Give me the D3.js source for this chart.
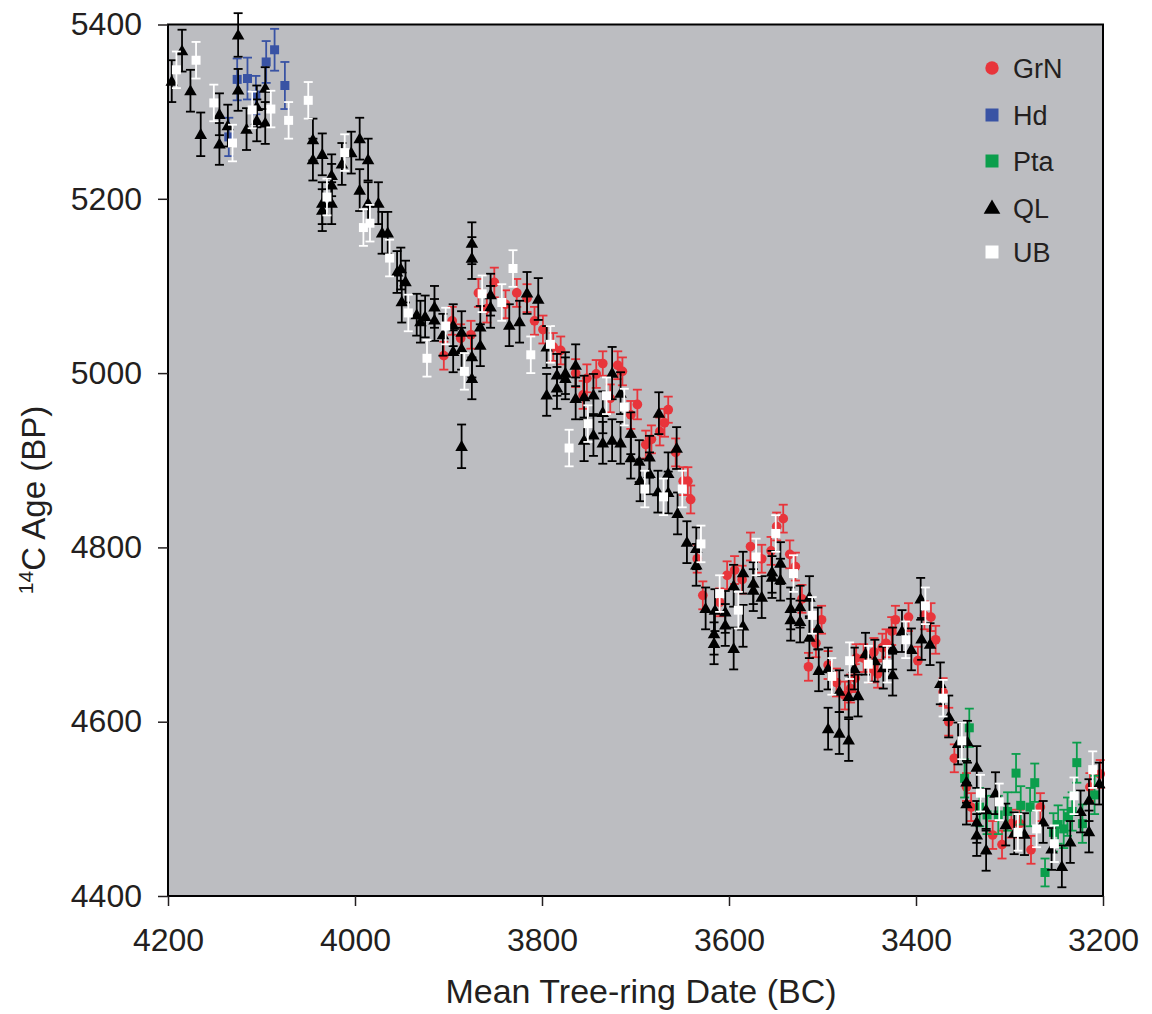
<!DOCTYPE html>
<html>
<head>
<meta charset="utf-8">
<script src="https://cdn.jsdelivr.net/npm/d3@7"></script>
<style>
  html, body { margin: 0; padding: 0; background: #ffffff; }
  svg { display: block; }
  text { font-family: "Liberation Sans", Arial, Helvetica, sans-serif; fill: #231f20; }
</style>
</head>
<body>
<svg id="chart" width="1152" height="1014"></svg>
<script>
// Radiocarbon ages of tree-ring samples: [mean tree-ring date (BC), 14C age (BP), 1-sigma error]
const seriesNames = ["GrN", "Hd", "Pta", "QL", "UB"];

const GrN = [
  [3905,5020,16],[3896,5060,16],[3887,5040,16],[3876,5044,16],[3868,5092,16],[3851,5104,17],
  [3859,5074,16],[3839,5079,16],[3827,5092,16],[3816,5086,16],[3808,5060,16],[3799,5050,16],
  [3788,5030,16],[3780,5026,16],[3764,5000,16],[3752,4994,16],[3742,4999,16],[3756,4975,16],
  [3735,5011,14],[3719,5009,16],[3714,5002,16],[3727,4971,16],[3705,4952,16],[3698,4964,17],
  [3689,4918,16],[3683,4924,16],[3674,4933,16],[3669,4943,16],[3665,4958,15],[3657,4909,16],
  [3649,4876,16],[3644,4876,16],[3641,4855,16],[3634,4787,16],[3628,4745,16],[3610,4737,16],
  [3602,4768,16],[3594,4774,16],[3586,4763,16],[3577,4801,16],[3565,4787,16],[3555,4796,16],
  [3549,4824,16],[3542,4833,16],[3535,4792,16],[3529,4778,16],[3522,4741,16],[3501,4717,16],
  [3507,4690,16],[3515,4663,16],[3494,4665,16],[3485,4645,16],[3476,4630,16],[3470,4638,16],
  [3465,4650,16],[3464,4673,16],[3456,4673,16],[3445,4680,16],[3447,4661,16],[3441,4655,16],
  [3436,4685,16],[3432,4690,16],[3426,4704,16],[3422,4717,16],[3408,4720,16],[3398,4670,16],
  [3379,4694,16],[3391,4722,16],[3384,4720,16],[3371,4634,16],[3365,4600,16],[3359,4558,16],
  [3346,4525,16],[3341,4502,16],[3318,4470,16],[3308,4459,16],[3298,4483,16],[3289,4483,16],
  [3277,4453,16],[3267,4502,16],[3214,4525,16],[3203,4540,16]
];

const Hd = [
  [4135,5271,22],[4126,5337,24],[4115,5338,24],[4106,5319,22],[4095,5357,24],[4086,5371,24],
  [4075,5330,27]
];

const Pta = [
  [3343,4593,22],[3348,4535,22],[3332,4502,22],[3324,4493,22],[3312,4493,22],[3302,4497,22],
  [3293,4541,22],[3288,4504,22],[3278,4502,22],[3273,4530,22],[3262,4427,16],[3253,4473,22],
  [3248,4482,22],[3242,4477,22],[3238,4491,22],[3233,4497,22],[3228,4553,23],[3222,4483,22],
  [3209,4516,22]
];

const QL = [
  [4196,5335,24],[4185,5370,24],[4176,5324,24],[4165,5274,25],[4145,5297,24],[4145,5263,24],
  [4136,5284,24],[4125,5388,25],[4125,5325,24],[4116,5280,24],[4105,5306,24],[4105,5290,24],
  [4096,5327,24],[4096,5287,24],[4045,5268,24],[4045,5245,24],[4035,5251,24],[4014,5240,24],
  [4004,5253,24],[3995,5269,24],[3986,5245,24],[4025,5227,24],[4025,5216,24],[4035,5187,24],
  [4035,5195,24],[4025,5195,24],[3995,5210,24],[3986,5195,24],[3975,5195,24],[3971,5161,24],
  [3965,5161,24],[3955,5116,24],[3951,5120,24],[3946,5105,24],[3950,5082,24],[3934,5067,24],
  [3930,5059,24],[3925,5065,24],[3915,5076,24],[3915,5061,24],[3906,5044,24],[3895,5055,24],
  [3895,5025,24],[3886,5047,24],[3886,5028,24],[3875,5019,24],[3875,4994,24],[3886,4916,25],
  [3875,5149,24],[3875,5132,24],[3855,5090,24],[3855,5076,24],[3866,5053,24],[3866,5032,24],
  [3835,5055,24],[3824,5059,24],[3816,5092,24],[3804,5085,24],[3795,5030,24],[3795,4975,24],
  [3784,4998,24],[3784,4983,24],[3775,5000,24],[3775,4994,24],[3764,5009,24],[3764,4971,24],
  [3755,4973,24],[3745,4975,24],[3725,5000,30],[3716,4977,24],[3735,4955,24],[3725,4923,24],
  [3735,4920,24],[3745,4929,24],[3755,4923,24],[3716,4920,24],[3705,4931,24],[3705,4903,24],
  [3696,4899,24],[3695,4877,24],[3675,4954,24],[3685,4904,24],[3685,4885,24],[3676,4864,24],
  [3665,4885,24],[3656,4914,24],[3655,4839,24],[3665,4863,24],[3645,4806,24],[3635,4799,24],
  [3635,4780,24],[3625,4730,24],[3615,4728,24],[3604,4726,24],[3616,4701,24],[3616,4690,24],
  [3604,4711,24],[3595,4684,24],[3585,4710,24],[3595,4756,24],[3585,4771,24],[3574,4759,24],
  [3574,4751,24],[3565,4743,24],[3554,4772,24],[3554,4766,24],[3545,4782,24],[3545,4763,24],
  [3534,4730,24],[3524,4732,24],[3534,4717,24],[3524,4715,24],[3514,4743,24],[3505,4707,24],
  [3514,4697,24],[3504,4659,24],[3466,4661,24],[3494,4661,24],[3482,4635,24],[3472,4629,24],
  [3462,4630,24],[3494,4592,24],[3482,4587,24],[3472,4579,24],[3454,4678,24],[3444,4670,24],
  [3435,4662,24],[3425,4684,24],[3425,4654,24],[3415,4704,24],[3405,4683,24],[3394,4695,24],
  [3385,4689,24],[3395,4741,24],[3374,4644,24],[3365,4606,24],[3355,4575,24],[3345,4577,24],
  [3346,4531,24],[3335,4548,24],[3315,4518,24],[3346,4506,24],[3335,4485,24],[3335,4470,24],
  [3325,4499,24],[3325,4453,24],[3304,4482,24],[3295,4472,24],[3284,4471,24],[3264,4485,24],
  [3255,4454,24],[3244,4434,24],[3235,4462,24],[3224,4497,24],[3215,4510,24],[3204,4529,24],
  [3215,4474,24]
];

const UB = [
  [4191,5348,21],[4170,5359,21],[4151,5310,21],[4131,5264,21],[4110,5302,21],[4090,5303,21],
  [4071,5290,21],[4050,5313,21],[4011,5253,21],[4030,5202,21],[3991,5167,21],[3984,5172,21],
  [3963,5132,21],[3943,5069,21],[3923,5017,21],[3903,5054,21],[3883,5002,21],[3864,5091,21],
  [3843,5081,21],[3831,5120,21],[3812,5021,21],[3791,5033,21],[3771,4914,21],[3731,4974,21],
  [3712,4961,21],[3751,4942,21],[3690,4867,21],[3670,4858,21],[3650,4867,21],[3630,4804,21],
  [3610,4747,21],[3590,4728,21],[3571,4789,21],[3550,4816,21],[3531,4770,21],[3511,4722,21],
  [3490,4652,21],[3471,4670,21],[3451,4666,21],[3431,4666,21],[3411,4694,21],[3390,4733,21],
  [3371,4627,21],[3351,4578,21],[3331,4518,21],[3311,4508,21],[3291,4473,21],[3271,4477,21],
  [3252,4460,21],[3231,4515,21],[3211,4545,21]
];

const xTicks = [4200, 4000, 3800, 3600, 3400, 3200];
const yTicks = [4400, 4600, 4800, 5000, 5200, 5400];

(function draw() {
  // Series styling
  const seriesData = { GrN, Hd, Pta, QL, UB };
  const seriesColor = { GrN: "#e8353b", Hd: "#3953a4", Pta: "#0b9e4c", QL: "#000000", UB: "#ffffff" };
  const seriesShape = { GrN: d3.symbolCircle, Hd: d3.symbolSquare, Pta: d3.symbolSquare, QL: d3.symbolTriangle, UB: d3.symbolSquare };
  const markSize = { GrN: 74, Hd: 81, Pta: 81, QL: 68, UB: 81 };
  const legendSize = { GrN: 140, Hd: 169, Pta: 169, QL: 120, UB: 169 };

  const svg = d3.select("#chart");
  const pLeft = 168, pRight = 1103, pTop = 24.5, pBottom = 896;

  const x = d3.scaleLinear().domain([4200, 3200]).range([pLeft, pRight]);
  const y = d3.scaleLinear().domain([4400, 5400]).range([pBottom, pTop]);

  // Plot background
  svg.append("rect")
    .attr("x", pLeft).attr("y", pTop)
    .attr("width", pRight - pLeft).attr("height", pBottom - pTop)
    .attr("fill", "#bcbdc1");

  const plot = svg.append("g");

  seriesNames.forEach(name => {
    const g = plot.append("g").attr("class", "series-" + name);
    const col = seriesColor[name];
    const data = seriesData[name];
    const bars = g.append("g").attr("stroke", col).attr("stroke-width", 1.8).attr("fill", "none");
    data.forEach(d => {
      const cx = x(d[0]);
      const y0 = y(d[1] - d[2]), y1 = y(d[1] + d[2]);
      bars.append("line").attr("x1", cx).attr("x2", cx).attr("y1", y0).attr("y2", y1);
      bars.append("line").attr("x1", cx - 4.5).attr("x2", cx + 4.5).attr("y1", y0).attr("y2", y0);
      bars.append("line").attr("x1", cx - 4.5).attr("x2", cx + 4.5).attr("y1", y1).attr("y2", y1);
    });
    const sym = d3.symbol().type(seriesShape[name]).size(markSize[name]);
    g.append("g").selectAll("path").data(data).join("path")
      .attr("d", sym)
      .attr("transform", d => `translate(${x(d[0])},${y(d[1]) + (name === "QL" ? 1 : 0)})`)
      .attr("fill", col);
  });

  // Frame
  svg.append("rect")
    .attr("x", pLeft).attr("y", pTop)
    .attr("width", pRight - pLeft).attr("height", pBottom - pTop)
    .attr("fill", "none").attr("stroke", "#000").attr("stroke-width", 2);

  // Axes
  const xAxis = svg.append("g")
    .attr("transform", `translate(0,${pBottom})`)
    .call(d3.axisBottom(x).tickValues(xTicks).tickFormat(d3.format("d")).tickSize(10).tickPadding(22));
  const yAxis = svg.append("g")
    .attr("transform", `translate(${pLeft},0)`)
    .call(d3.axisLeft(y).tickValues(yTicks).tickFormat(d3.format("d")).tickSize(10).tickPadding(16));
  [xAxis, yAxis].forEach(a => {
    a.select(".domain").remove();
    a.selectAll(".tick line").attr("stroke", "#231f20").attr("stroke-width", 1.5);
    a.selectAll(".tick text").attr("font-size", 32)
      .attr("font-family", "'Liberation Sans', Arial, sans-serif").attr("fill", "#231f20");
  });

  // Axis titles
  svg.append("text")
    .attr("x", 641).attr("y", 1003)
    .attr("text-anchor", "middle").attr("font-size", 34)
    .text("Mean Tree-ring Date (BC)");

  const yTitle = svg.append("text")
    .attr("transform", "translate(45,500) rotate(-90)")
    .attr("text-anchor", "middle").attr("font-size", 33);
  yTitle.append("tspan").attr("font-size", 21).attr("dy", -12).text("14");
  yTitle.append("tspan").attr("dy", 12).text("C Age (BP)");

  // Legend
  const legendRows = [68, 115, 161, 208, 252];
  const legend = svg.append("g");
  seriesNames.forEach((name, i) => {
    const ly = legendRows[i];
    legend.append("path")
      .attr("d", d3.symbol().type(seriesShape[name]).size(legendSize[name]))
      .attr("transform", `translate(992,${ly + (name === "QL" ? 1 : 0)})`)
      .attr("fill", seriesColor[name]);
    legend.append("text")
      .attr("x", 1013).attr("y", ly + 10)
      .attr("font-size", 27)
      .text(name);
  });
})();
</script>
</body>
</html>
